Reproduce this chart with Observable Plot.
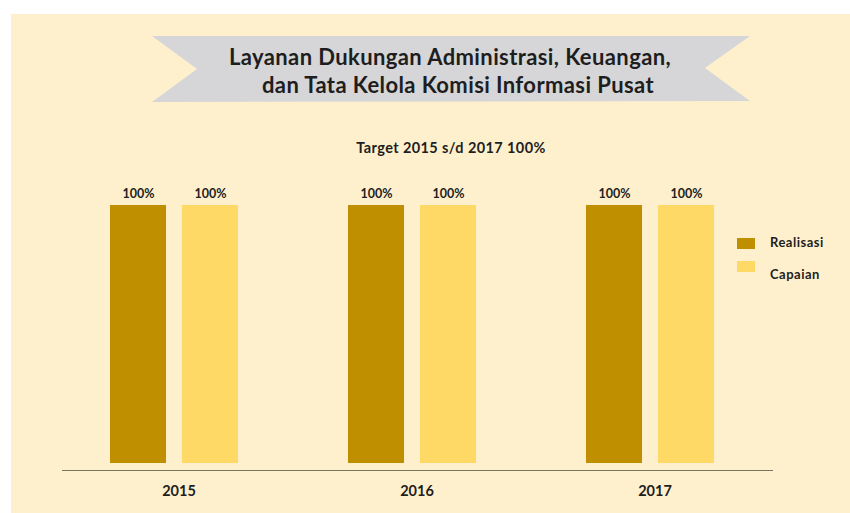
<!DOCTYPE html>
<html>
<head>
<meta charset="utf-8">
<script src="https://cdn.jsdelivr.net/npm/d3@7"></script>
<script src="https://cdn.jsdelivr.net/npm/@observablehq/plot@0.6"></script>
<style>
  html, body { margin: 0; padding: 0; background: #ffffff; }
  #wrap { position: relative; width: 850px; height: 513px; overflow: hidden; font-family: Lato, "Open Sans", sans-serif; }
  #bg { position: absolute; left: 11px; top: 14px; right: 0; bottom: 0; background: #fff0cd; }
  #banner { position: absolute; left: 0; top: 0; }
  .title { position: absolute; left: 0; width: 900px; text-align: center; font-weight: 700; font-size: 22px; letter-spacing: 0.4px; color: #1e1e1e; white-space: nowrap; }
  #sub { position: absolute; left: 0; width: 902px; top: 139px; text-align: center; font-weight: 700; font-size: 14.5px; letter-spacing: 0.4px; color: #1e1e1e; }
  #chart { position: absolute; left: 0; top: 160px; }
  #axisline { position: absolute; left: 62px; width: 711px; top: 470px; height: 0; border-top: 1.5px solid #77745f; }
  .leg { position: absolute; left: 737px; font-weight: 700; font-size: 13px; letter-spacing: 0.5px; color: #1e1e1e; }
  .leg span.sw { position: absolute; left: 0; width: 18px; height: 11px; }
  .leg span.lb { position: absolute; left: 33px; white-space: nowrap; }
</style>
</head>
<body>
<div id="wrap">
  <div id="bg"></div>
  <svg id="banner" width="850" height="120">
    <polygon points="152,36 750,36 705,68 750,101 152,102 197,69" fill="#d6d6d8"></polygon>
  </svg>
  <div class="title" style="top:43px">Layanan Dukungan Administrasi, Keuangan,</div>
  <div class="title" style="top:71px; left:8px">dan Tata Kelola Komisi Informasi Pusat</div>
  <div id="sub">Target 2015 s/d 2017 100%</div>
  <div id="chart"></div>
  <div id="axisline"></div>
  <div id="legend"></div>
</div>
<script>
// Data
const years = ["2015", "2016", "2017"];
const series = ["Realisasi", "Capaian"];
const realisasi = [100, 100, 100];
const capaian = [100, 100, 100];
const colors = ["#bf8f00", "#ffd966"];

const rows = [];
years.forEach((y, i) => {
  rows.push({year: y, series: series[0], value: realisasi[i]});
  rows.push({year: y, series: series[1], value: capaian[i]});
});

const chart = Plot.plot({
  width: 850,
  height: 343,
  marginTop: 45,
  marginBottom: 40,
  marginLeft: 93,
  marginRight: 117,
  style: {background: "transparent", fontFamily: "Lato, 'Open Sans', sans-serif"},
  fx: {domain: years, paddingInner: 0.322, paddingOuter: 0, label: null, tickSize: 0, tickPadding: 22},
  x: {domain: series, padding: 0.219, axis: null},
  y: {domain: [0, 100], axis: null},
  color: {domain: series, range: colors},
  facet: {data: rows, x: "year"},
  marks: [
    Plot.barY(rows, {x: "series", y: "value", fill: "series"}),
    Plot.text(rows, {x: "series", y: "value", text: d => d.value + "%", dy: -12, fontWeight: "bold", fontSize: 12.5, fill: "#222"})
  ]
});
chart.querySelectorAll("g[aria-label^='fx-axis'] text").forEach(t => {
  t.setAttribute("font-weight", "bold");
  t.setAttribute("font-size", "14.5");
  t.setAttribute("fill", "#1e1e1e");
  t.setAttribute("dx", "4");
});
document.getElementById("chart").appendChild(chart);

const leg = document.getElementById("legend");
const swTop = [238, 261];
const lbTop = [-4, 5];
series.forEach((s, i) => {
  const d = document.createElement("div");
  d.className = "leg";
  d.style.top = swTop[i] + "px";
  d.innerHTML = `<span class="sw" style="background:${colors[i]}"></span><span class="lb" style="top:${lbTop[i]}px">${s}</span>`;
  leg.appendChild(d);
});
</script>
</body>
</html>
